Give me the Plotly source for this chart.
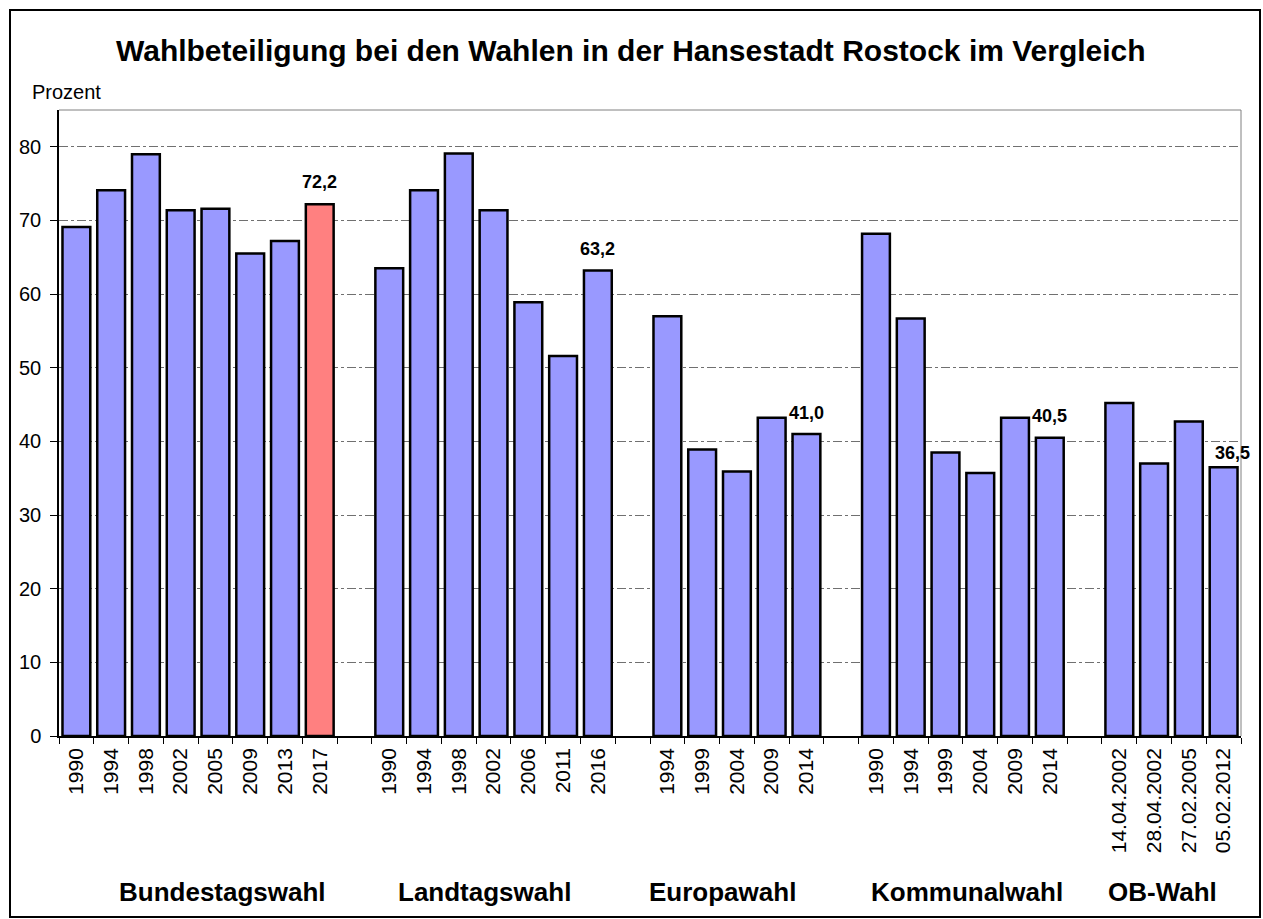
import plotly.graph_objects as go

# ---- data ----
group_names = ["Bundestagswahl", "Landtagswahl", "Europawahl", "Kommunalwahl", "OB-Wahl"]

bundestag_labels = ["1990", "1994", "1998", "2002", "2005", "2009", "2013", "2017"]
bundestag_values = [69.1, 74.1, 79.0, 71.4, 71.6, 65.5, 67.2, 72.2]

landtag_labels = ["1990", "1994", "1998", "2002", "2006", "2011", "2016"]
landtag_values = [63.5, 74.1, 79.1, 71.4, 58.9, 51.6, 63.2]

europa_labels = ["1994", "1999", "2004", "2009", "2014"]
europa_values = [57.0, 38.9, 35.9, 43.2, 41.0]

kommunal_labels = ["1990", "1994", "1999", "2004", "2009", "2014"]
kommunal_values = [68.2, 56.7, 38.5, 35.7, 43.2, 40.5]

ob_labels = ["14.04.2002", "28.04.2002", "27.02.2005", "05.02.2012"]
ob_values = [45.2, 37.0, 42.7, 36.5]

value_labels = ["72,2", "63,2", "41,0", "40,5", "36,5"]  # shown above last bar of each group

y_tickvals = [0, 10, 20, 30, 40, 50, 60, 70, 80]

# ---- build positions ----
groups = [
    (bundestag_labels, bundestag_values),
    (landtag_labels, landtag_values),
    (europa_labels, europa_values),
    (kommunal_labels, kommunal_values),
    (ob_labels, ob_values),
]

xs, ys, texts, colors = [], [], [], []
last_idx = []
pos = 0
for gi, (labs, vals) in enumerate(groups):
    for i, (l, v) in enumerate(zip(labs, vals)):
        xs.append(pos)
        ys.append(v)
        texts.append(l)
        colors.append("#FF8080" if (gi == 0 and i == len(vals) - 1) else "#9999FF")
        pos += 1
    last_idx.append(len(xs) - 1)
    pos += 1  # gap
n_slots = pos - 1

FONT = "Arial, Liberation Sans, sans-serif"

fig = go.Figure()
fig.add_trace(go.Bar(
    x=xs, y=ys, width=0.8,
    marker=dict(color=colors, line=dict(color="black", width=2.5)),
    hoverinfo="x+y", showlegend=False,
))

# geometry
W, H = 1263, 919
L, R, T, B = 59, 22, 110, 183
pw, ph = W - L - R, H - T - B

def px_x(px):
    return (px - L) / pw

def px_y(py):
    return (H - B - py) / ph

fig.update_layout(
    width=W, height=H,
    margin=dict(l=L, r=R, t=T, b=B, pad=0),
    paper_bgcolor="white", plot_bgcolor="white",
    font=dict(family=FONT, color="black"),
    bargap=0.2,
)

fig.update_xaxes(
    range=[-0.5, n_slots - 0.5],
    tickmode="array", tickvals=xs, ticktext=texts,
    tickangle=-90, ticks="", tickfont=dict(size=21, family=FONT),
    ticklabelstandoff=2,
    showgrid=False, zeroline=False,
    showline=True, linecolor="black", linewidth=1.5,
    minor=dict(ticks="outside", tick0=0.5, dtick=1, ticklen=6, tickcolor="black", tickwidth=1, showgrid=False),
)
fig.update_yaxes(
    range=[0, 85],
    tickmode="array", tickvals=y_tickvals,
    ticks="outside", ticklen=7, tickcolor="black", tickwidth=1,
    tickfont=dict(size=20, family=FONT),
    ticklabelstandoff=5,
    showgrid=True, gridcolor="#707070", gridwidth=1, griddash="dashdot",
    zeroline=False,
    showline=True, linecolor="black", linewidth=1.5,
)

shapes = [
    # top & right frame of plot area
    dict(type="line", xref="paper", yref="paper", x0=0, x1=1, y0=1, y1=1, line=dict(color="#808080", width=1)),
    dict(type="line", xref="paper", yref="paper", x0=1, x1=1, y0=0, y1=1, line=dict(color="#808080", width=1)),
    # outer border
    dict(type="rect", xref="paper", yref="paper",
         x0=px_x(10), x1=px_x(1260), y0=px_y(917), y1=px_y(10),
         line=dict(color="black", width=2), fillcolor="rgba(0,0,0,0)", layer="below"),
]
fig.update_layout(shapes=shapes)

annotations = []
annotations.append(dict(
    text="<b>Wahlbeteiligung bei den Wahlen in der Hansestadt Rostock im Vergleich</b>",
    xref="paper", yref="paper", x=px_x(631), y=px_y(50), xanchor="center", yanchor="middle",
    showarrow=False, font=dict(size=30, family=FONT, color="black"),
))
annotations.append(dict(
    text="Prozent", xref="paper", yref="paper", x=px_x(30), y=px_y(92),
    xanchor="left", yanchor="middle", showarrow=False, font=dict(size=20, family=FONT),
))
# value labels over last bar in each group
shifts = [(0, 22), (0, 22), (0, 21), (0, 22), (9, 14)]
for k, idx in enumerate(last_idx):
    annotations.append(dict(
        text="<b>%s</b>" % value_labels[k], x=xs[idx], y=ys[idx], xref="x", yref="y",
        xanchor="center", yanchor="middle", xshift=shifts[k][0], yshift=shifts[k][1],
        showarrow=False, font=dict(size=18, family=FONT),
    ))
# group names
group_px = [222, 484, 723, 967, 1162]
for name, gx in zip(group_names, group_px):
    annotations.append(dict(
        text="<b>%s</b>" % name, xref="paper", yref="paper", x=px_x(gx), y=px_y(892),
        xanchor="center", yanchor="middle", showarrow=False, font=dict(size=26, family=FONT),
    ))
fig.update_layout(annotations=annotations)

fig.write_html(
    "out.html",
    config={"displayModeBar": False},
    post_script="document.body.style.margin='0';document.body.style.overflow='hidden';",
)
